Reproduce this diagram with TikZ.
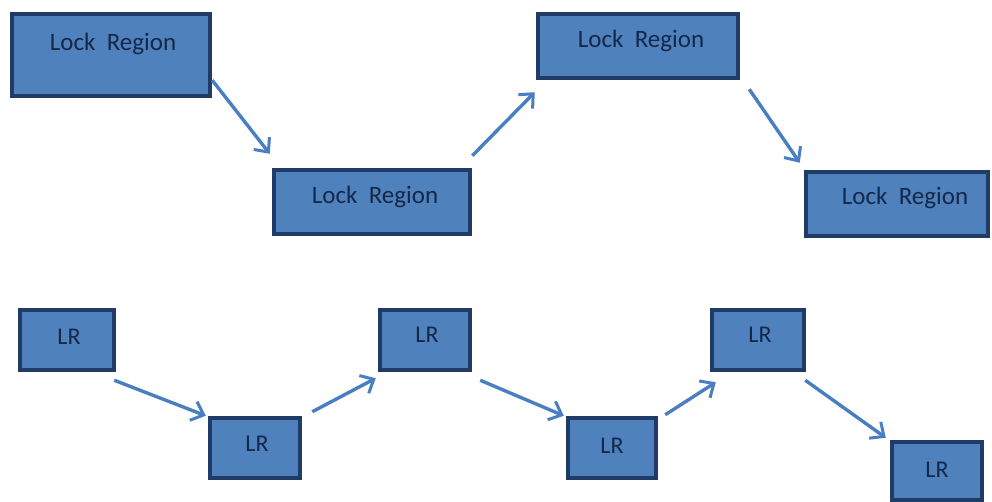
\documentclass[tikz,border=0pt]{standalone}
\usepackage{fontspec}
\setmainfont{Carlito}
\usetikzlibrary{arrows.meta}
\definecolor{boxfill}{HTML}{4F81BD}
\definecolor{boxline}{HTML}{1F3B66}
\definecolor{boxtext}{HTML}{14284A}
\definecolor{arrcol}{HTML}{4A7EC2}
\tikzset{
  box/.style={draw=boxline, line width=4.5pt, fill=boxfill, inner sep=0pt},
  bigtxt/.style={text=boxtext, font=\fontsize{25}{29}\selectfont, inner sep=0pt},
  smalltxt/.style={text=boxtext, font=\fontsize{24}{28}\selectfont, inner sep=0pt},
  arr/.style={draw=arrcol, line width=3.4pt, -{Straight Barb[length=11pt,width=20pt,line width=3pt]}}
}
\begin{document}
\begin{tikzpicture}[x=1pt,y=-1pt]
\useasboundingbox (0,0) rectangle (992,502);
% top row
\node[box, minimum width=198pt, minimum height=82pt] (b1) at (111,55) {};
\node[bigtxt] (t1) at (113,44) {Lock\ \ Region};
\node[box, minimum width=196pt, minimum height=64pt] (b2) at (372,202) {};
\node[bigtxt] (t2) at (375,197) {Lock\ \ Region};
\node[box, minimum width=200pt, minimum height=64pt] (b3) at (638,46) {};
\node[bigtxt] (t3) at (641,41) {Lock\ \ Region};
\node[box, minimum width=182pt, minimum height=64pt] (b4) at (897,204) {};
\node[bigtxt] (t4) at (905,198) {Lock\ \ Region};
% bottom row
\node[box, minimum width=94pt, minimum height=60pt] (l1) at (67,340) {};
\node[smalltxt] (s1) at (69,337) {LR};
\node[box, minimum width=90pt, minimum height=60pt] (l2) at (255,448) {};
\node[smalltxt] (s2) at (257,444) {LR};
\node[box, minimum width=90pt, minimum height=60pt] (l3) at (425,340) {};
\node[smalltxt] (s3) at (427,335) {LR};
\node[box, minimum width=88pt, minimum height=60pt] (l4) at (612,448) {};
\node[smalltxt] (s4) at (612,446) {LR};
\node[box, minimum width=92pt, minimum height=60pt] (l5) at (758,340) {};
\node[smalltxt] (s5) at (760,335) {LR};
\node[box, minimum width=90pt, minimum height=58pt] (l6) at (937,471) {};
\node[smalltxt] (s6) at (937,470) {LR};
% arrows top
\draw[arr] ([yshift=18pt]b1.south east) -- ([xshift=-2pt,yshift=14pt]b2.north west);
\draw[arr] ([yshift=12pt]b2.north east) -- ([xshift=-1pt,yshift=-12pt]b3.south west);
\draw[arr] ([xshift=9pt,yshift=-9pt]b3.south east) -- ([xshift=-4pt,yshift=7pt]b4.north west);
% arrows bottom
\draw[arr] ([xshift=-2pt,yshift=-8pt]l1.south east) -- ([xshift=-2pt]l2.north west);
\draw[arr] ([xshift=10pt,yshift=4pt]l2.north east) -- ([xshift=-2pt,yshift=-6pt]l3.south west);
\draw[arr] ([xshift=8pt,yshift=-8pt]l3.south east) -- ([xshift=-2pt]l4.north west);
\draw[arr] ([xshift=7pt,yshift=1pt]l4.north east) -- ([xshift=6pt,yshift=-10pt]l5.south west);
\draw[arr] ([xshift=-1pt,yshift=-8pt]l5.south east) -- ([xshift=-4pt,yshift=2pt]l6.north west);
\end{tikzpicture}
\end{document}
